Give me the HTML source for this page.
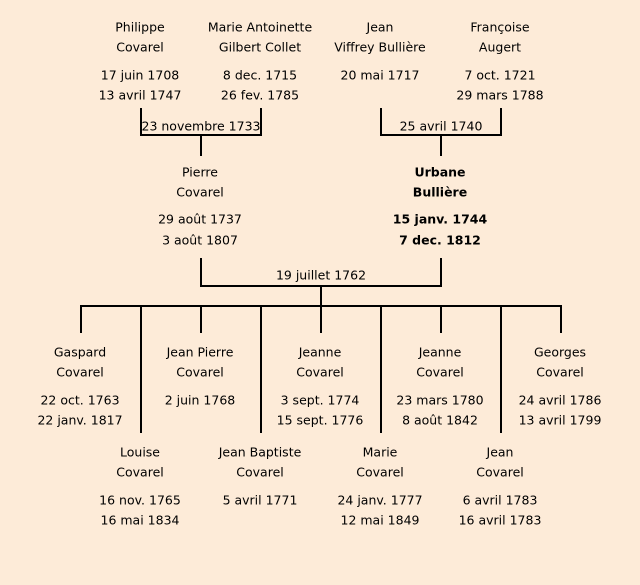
<!DOCTYPE html>
<html><head><meta charset="utf-8"><style>
html,body{margin:0;padding:0;background:#fdebd8;}
svg{display:block}
text{font-family:"DejaVu Sans","Liberation Sans",sans-serif;font-size:12.5px;fill:#000;text-anchor:middle;dominant-baseline:middle;}
.b{font-weight:bold}
</style></head><body>
<svg width="640" height="585" viewBox="0 0 640 585" xmlns="http://www.w3.org/2000/svg">
<rect width="640" height="585" fill="#fdebd8"/>
<g stroke="#000" stroke-width="2" fill="none">
<polyline points="141,108 141,135 261,135 261,108"/>
<line x1="201" y1="135" x2="201" y2="156"/>
<polyline points="381,108 381,135 501,135 501,108"/>
<line x1="441" y1="135" x2="441" y2="156"/>
<polyline points="201,258 201,286 441,286 441,258"/>
<line x1="321" y1="286" x2="321" y2="306"/>
<line x1="80" y1="306" x2="562" y2="306"/>
<line x1="81" y1="306" x2="81" y2="333"/>
<line x1="201" y1="306" x2="201" y2="333"/>
<line x1="321" y1="306" x2="321" y2="333"/>
<line x1="441" y1="306" x2="441" y2="333"/>
<line x1="561" y1="306" x2="561" y2="333"/>
<line x1="141" y1="306" x2="141" y2="433"/>
<line x1="261" y1="306" x2="261" y2="433"/>
<line x1="381" y1="306" x2="381" y2="433"/>
<line x1="501" y1="306" x2="501" y2="433"/>
</g>
<g transform="translate(0,1)">
<text x="140" y="27">Philippe</text><text x="140" y="47">Covarel</text><text x="140" y="75">17 juin 1708</text><text x="140" y="95">13 avril 1747</text>
<text x="260" y="27">Marie Antoinette</text><text x="260" y="47">Gilbert Collet</text><text x="260" y="75">8 dec. 1715</text><text x="260" y="95">26 fev. 1785</text>
<text x="380" y="27">Jean</text><text x="380" y="47">Viffrey Bullière</text><text x="380" y="75">20 mai 1717</text>
<text x="500" y="27">Françoise</text><text x="500" y="47">Augert</text><text x="500" y="75">7 oct. 1721</text><text x="500" y="95">29 mars 1788</text>
<text x="201" y="126">23 novembre 1733</text>
<text x="441" y="126">25 avril 1740</text>
<text x="200" y="172">Pierre</text><text x="200" y="192">Covarel</text><text x="200" y="219">29 août 1737</text><text x="200" y="240">3 août 1807</text>
<text class="b" x="440" y="172">Urbane</text><text class="b" x="440" y="192">Bullière</text><text class="b" x="440" y="219">15 janv. 1744</text><text class="b" x="440" y="240">7 dec. 1812</text>
<text x="321" y="275">19 juillet 1762</text>
<text x="80" y="352">Gaspard</text><text x="80" y="372">Covarel</text><text x="80" y="400">22 oct. 1763</text><text x="80" y="420">22 janv. 1817</text>
<text x="200" y="352">Jean Pierre</text><text x="200" y="372">Covarel</text><text x="200" y="400">2 juin 1768</text>
<text x="320" y="352">Jeanne</text><text x="320" y="372">Covarel</text><text x="320" y="400">3 sept. 1774</text><text x="320" y="420">15 sept. 1776</text>
<text x="440" y="352">Jeanne</text><text x="440" y="372">Covarel</text><text x="440" y="400">23 mars 1780</text><text x="440" y="420">8 août 1842</text>
<text x="560" y="352">Georges</text><text x="560" y="372">Covarel</text><text x="560" y="400">24 avril 1786</text><text x="560" y="420">13 avril 1799</text>
<text x="140" y="452">Louise</text><text x="140" y="472">Covarel</text><text x="140" y="500">16 nov. 1765</text><text x="140" y="520">16 mai 1834</text>
<text x="260" y="452">Jean Baptiste</text><text x="260" y="472">Covarel</text><text x="260" y="500">5 avril 1771</text>
<text x="380" y="452">Marie</text><text x="380" y="472">Covarel</text><text x="380" y="500">24 janv. 1777</text><text x="380" y="520">12 mai 1849</text>
<text x="500" y="452">Jean</text><text x="500" y="472">Covarel</text><text x="500" y="500">6 avril 1783</text><text x="500" y="520">16 avril 1783</text>
</g>
</svg>
</body></html>
